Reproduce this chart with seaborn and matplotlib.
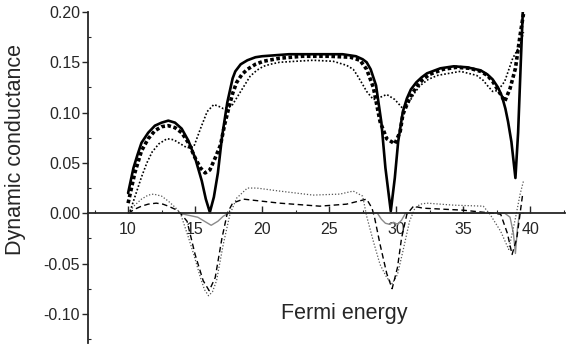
"""
plot.py - dynamic conductance vs Fermi energy (six curves, digitised by eye).

    python plot.py
"""

import matplotlib
matplotlib.use('Agg')
import matplotlib.pyplot as plt
from matplotlib.ticker import MultipleLocator, FormatStrFormatter
import pandas as pd
import seaborn as sns

# ---- upper set: total conductance ----
e_solid = [10.0, 10.4, 10.7, 11.0, 11.5, 12.0, 12.5, 13.0, 13.5, 14.0,
           14.5, 15.0, 15.5, 15.8, 16.1, 16.4, 16.7, 17.0, 17.4, 17.8,
           18.0, 18.4, 18.9, 19.5, 20.0, 21.0, 22.0, 24.0, 26.0, 27.0,
           27.5, 27.8, 28.1, 28.5, 28.9, 29.2, 29.6, 29.9, 30.15, 30.5,
           30.8, 31.1, 31.5, 31.9, 32.3, 33.3, 34.3, 35.3, 36.3, 36.8,
           37.2, 37.6, 37.9, 38.15, 38.35, 38.6, 38.9, 39.1, 39.3, 39.45]
g_solid = [0.020, 0.045, 0.058, 0.070, 0.080, 0.087, 0.090, 0.092, 0.090, 0.084,
           0.072, 0.055, 0.032, 0.014, 0.001, 0.016, 0.040, 0.075, 0.110, 0.134,
           0.141, 0.148, 0.152, 0.155, 0.156, 0.157, 0.158, 0.158, 0.158, 0.156,
           0.153, 0.150, 0.143, 0.127, 0.090, 0.045, 0.002, 0.035, 0.071, 0.101,
           0.114, 0.123, 0.130, 0.135, 0.139, 0.144, 0.146, 0.145, 0.142, 0.138,
           0.133, 0.125, 0.116, 0.104, 0.091, 0.071, 0.035, 0.080, 0.150, 0.200]

e_hdot = [10.0, 10.5, 11.0, 11.5, 12.0, 12.5, 13.0, 13.5, 14.0, 14.5,
          15.0, 15.4, 15.75, 16.1, 16.5, 16.9, 17.2, 17.5, 17.8, 18.1,
          18.5, 18.9, 19.5, 20.1, 21.3, 23.0, 25.0, 26.6, 27.3, 27.8,
          28.3, 28.8, 29.3, 29.9, 30.3, 30.5, 30.9, 31.2, 31.6, 32.0,
          32.5, 33.5, 34.5, 35.5, 36.3, 36.8, 37.2, 37.8, 38.1, 38.5,
          38.9, 39.25, 39.5]
g_hdot = [0.010, 0.040, 0.062, 0.074, 0.082, 0.086, 0.087, 0.085, 0.080, 0.070,
          0.055, 0.045, 0.040, 0.043, 0.055, 0.068, 0.088, 0.104, 0.119, 0.130,
          0.138, 0.143, 0.148, 0.151, 0.154, 0.156, 0.156, 0.155, 0.152, 0.143,
          0.125, 0.091, 0.074, 0.069, 0.081, 0.098, 0.111, 0.119, 0.127, 0.133,
          0.138, 0.143, 0.145, 0.144, 0.141, 0.137, 0.131, 0.118, 0.111, 0.124,
          0.144, 0.177, 0.198]

e_dot = [10.15, 10.6, 11.0, 11.4, 11.8, 12.3, 12.9, 13.4, 13.9, 14.4,
         14.9, 15.4, 15.9, 16.4, 16.8, 17.1, 17.5, 17.8, 18.4, 19.1,
         19.6, 20.1, 20.6, 21.3, 22.5, 23.8, 25.3, 26.3, 26.8, 27.1,
         27.5, 27.8, 28.3, 28.6, 29.3, 29.9, 30.5, 31.0, 31.4, 31.8,
         32.4, 33.1, 34.8, 36.0, 36.5, 36.8, 37.2, 37.6, 38.1, 38.7,
         39.25, 39.5]
g_dot = [0.002, 0.020, 0.036, 0.050, 0.061, 0.069, 0.074, 0.073, 0.069, 0.065,
         0.066, 0.084, 0.101, 0.108, 0.106, 0.104, 0.105, 0.108, 0.121, 0.136,
         0.142, 0.146, 0.148, 0.150, 0.151, 0.152, 0.151, 0.147, 0.143, 0.137,
         0.128, 0.121, 0.113, 0.114, 0.118, 0.113, 0.104, 0.111, 0.120, 0.127,
         0.133, 0.137, 0.141, 0.137, 0.132, 0.127, 0.121, 0.122, 0.131, 0.154,
         0.167, 0.180]

# ---- lower set: small curves around zero ----
e_dot_lo = [10.0, 10.5, 11.0, 11.5, 11.9, 12.5, 13.0, 13.5, 13.9, 14.1,
            14.5, 14.9, 15.4, 15.7, 16.0, 16.3, 16.6, 17.1, 17.6, 18.1,
            18.9, 19.6, 21.3, 23.8, 25.8, 26.8, 27.5, 27.8, 28.3, 28.8,
            29.3, 29.7, 30.1, 30.5, 31.0, 31.4, 31.8, 32.3, 34.3, 36.5,
            37.0, 37.8, 38.4, 38.9, 39.25, 39.5]
g_dot_lo = [0.000, 0.008, 0.014, 0.018, 0.019, 0.017, 0.012, 0.006, 0.000, -0.008,
            -0.024, -0.041, -0.064, -0.076, -0.082, -0.078, -0.067, -0.031, -0.001, 0.015,
            0.025, 0.025, 0.022, 0.018, 0.019, 0.022, 0.017, -0.003, -0.028, -0.051,
            -0.064, -0.070, -0.061, -0.038, -0.008, 0.005, 0.009, 0.010, 0.008, 0.007,
            -0.001, -0.018, -0.036, -0.005, 0.019, 0.032]

e_dash_lo = [10.0, 10.5, 11.0, 11.5, 12.1, 12.6, 13.0, 13.5, 13.9, 14.4,
             15.0, 15.6, 16.05, 16.5, 17.0, 17.4, 17.8, 18.6, 21.3, 24.3,
             26.3, 27.8, 28.2, 28.4, 28.8, 29.3, 29.7, 30.1, 30.4, 30.8,
             31.3, 32.0, 35.0, 37.2, 37.8, 38.3, 38.65, 39.0, 39.45]
g_dash_lo = [0.000, 0.004, 0.007, 0.009, 0.010, 0.009, 0.007, 0.004, 0.000, -0.008,
             -0.041, -0.067, -0.077, -0.064, -0.025, 0.000, 0.010, 0.014, 0.010, 0.007,
             0.009, 0.014, 0.005, -0.005, -0.031, -0.060, -0.075, -0.054, -0.025, -0.001,
             0.007, 0.005, 0.003, 0.000, -0.001, -0.020, -0.041, -0.025, 0.020]

e_sol_lo = [10.0, 13.8, 14.5, 15.2, 15.7, 16.2, 16.7, 17.1, 17.5, 28.6,
            28.9, 29.2, 29.5, 29.8, 30.1, 30.4, 30.7, 38.1, 38.5, 38.75,
            38.9, 39.05, 39.2, 39.5]
g_sol_lo = [0.000, 0.000, -0.002, -0.004, -0.008, -0.012, -0.008, -0.003, 0.000, 0.000,
            -0.006, -0.010, -0.011, -0.009, -0.011, -0.007, 0.000, 0.000, -0.004, -0.020,
            -0.040, -0.015, 0.000, 0.000]


def draw_curve(ax, e, g, **style):
    df = pd.DataFrame({'energy': e, 'conductance': g})
    sns.lineplot(data=df, x='energy', y='conductance', ax=ax,
                 errorbar=None, **style)


def main():
    sns.set_style('ticks')
    plt.rcParams['font.family'] = ['Liberation Sans', 'DejaVu Sans']
    plt.rcParams['axes.unicode_minus'] = False

    fig = plt.figure(figsize=(5.67, 3.47), dpi=100)
    ax = fig.add_axes([0.155, 0.0115, 0.8415, 0.954])

    # lower (thin) curves first so the heavy ones sit on top
    draw_curve(ax, e_sol_lo, g_sol_lo, color='#8a8a8a', linewidth=1.0)
    draw_curve(ax, e_dot_lo, g_dot_lo, color='#555555', linewidth=0.9,
               linestyle=(0, (1, 1.5)))
    draw_curve(ax, e_dash_lo, g_dash_lo, color='black', linewidth=1.0,
               linestyle=(0, (4, 2.5)))

    draw_curve(ax, e_dot, g_dot, color='black', linewidth=1.2,
               linestyle=(0, (1, 1.2)))
    draw_curve(ax, e_hdot, g_hdot, color='black', linewidth=2.6,
               linestyle=(0, (1, 0.7)))
    draw_curve(ax, e_solid, g_solid, color='black', linewidth=1.9)

    ax.set_xlim(7.0, 42.6)
    ax.set_ylim(-0.129, 0.20)

    # x axis drawn through zero, only left spine kept
    sns.despine(ax=ax)
    ax.spines['bottom'].set_position(('data', 0))
    ax.spines['bottom'].set_linewidth(1.3)
    ax.spines['left'].set_linewidth(1.3)

    ax.xaxis.set_major_locator(MultipleLocator(5))
    ax.xaxis.set_minor_locator(MultipleLocator(2.5))
    ax.yaxis.set_major_locator(MultipleLocator(0.05))
    ax.yaxis.set_minor_locator(MultipleLocator(0.025))
    ax.yaxis.set_major_formatter(FormatStrFormatter('%.2f'))

    ax.tick_params(axis='x', which='major', direction='in', length=5,
                   width=1.0, pad=6, labelsize=11.5)
    ax.tick_params(axis='x', which='minor', direction='in', length=2.5, width=0.8)
    ax.tick_params(axis='y', which='major', direction='out', length=4.5,
                   width=1.0, pad=1, labelsize=11.5)
    ax.tick_params(axis='y', which='minor', direction='in', length=2.5, width=0.8)

    ax.set_xlabel('Fermi energy', fontsize=15.5)
    ax.set_ylabel('Dynamic conductance', fontsize=15.5)
    ax.xaxis.set_label_coords(0.537, 0.121)
    ax.yaxis.set_label_coords(-0.13, 0.585)

    fig.savefig('out.png', dpi=100)
    plt.close(fig)


if __name__ == '__main__':
    main()
